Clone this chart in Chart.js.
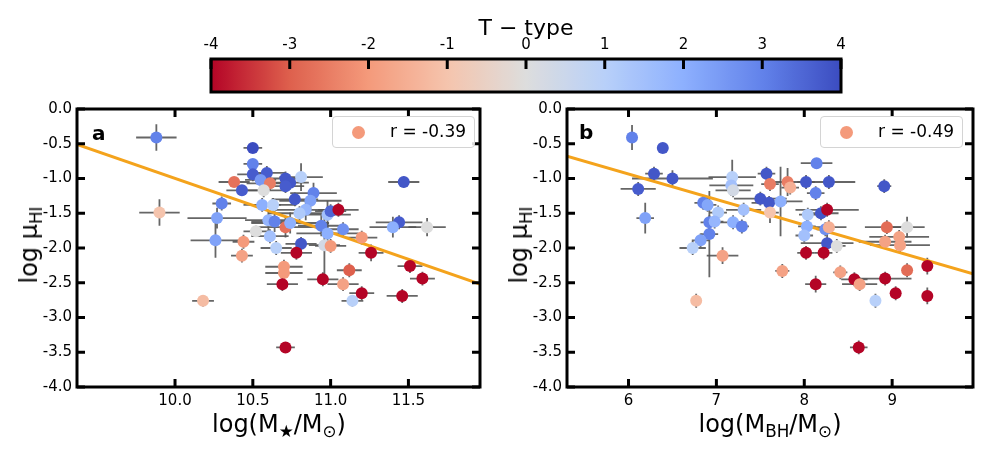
<!DOCTYPE html>
<html><head><meta charset="utf-8">
<script src="https://cdn.jsdelivr.net/npm/chart.js@4.4.0/dist/chart.umd.min.js"></script>
<style>
body{margin:0;background:#fff;}
#wrap{position:relative;width:1000px;height:454px;overflow:hidden;font-family:"DejaVu Sans",sans-serif;color:#000;}
canvas{position:absolute;}
.ov{position:absolute;white-space:nowrap;}
.sub{font-size:70%;position:relative;top:0.32em;}
.ytl{font-size:24px;transform:translate(-50%,-50%) rotate(-90deg);}
.xtl{font-size:24px;transform:translate(-50%,-50%);}
.lab{font-size:20px;font-weight:bold;}
.leg{border:1px solid #d4d4d4;border-radius:4px;background:rgba(255,255,255,0.85);width:141px;height:30px;}
.leg .dot{position:absolute;left:19px;top:9px;width:13px;height:13px;border-radius:50%;}
.leg .txt{position:absolute;left:57px;top:4px;font-size:17px;}
</style></head>
<body>
<div id="wrap">
  <canvas id="cb" width="1000" height="100" style="left:0;top:0;width:1000px;height:100px"></canvas>
  <canvas id="ca" width="495" height="359" style="left:0;top:95px;width:495px;height:359px"></canvas>
  <canvas id="cbb" width="505" height="359" style="left:495px;top:95px;width:505px;height:359px"></canvas>
  <div class="ov" style="left:526px;top:27px;font-size:22px;transform:translate(-50%,-50%)">T − type</div>
  <div class="ov ytl" style="left:29px;top:245px">log μ<span class="sub">HI</span></div>
  <div class="ov ytl" style="left:519px;top:245px">log μ<span class="sub">HI</span></div>
  <div class="ov xtl" style="left:279px;top:424px">log(M<span class="sub">★</span>/M<span class="sub">⊙</span>)</div>
  <div class="ov xtl" style="left:770px;top:424px">log(M<span class="sub">BH</span>/M<span class="sub">⊙</span>)</div>
  <div class="ov lab" style="left:92px;top:121px">a</div>
  <div class="ov lab" style="left:579px;top:120px">b</div>
  <div class="ov leg" style="left:332px;top:116px"><div class="dot" id="dotA"></div><div class="txt">r = -0.39</div></div>
  <div class="ov leg" style="left:820px;top:116px"><div class="dot" id="dotB"></div><div class="txt">r = -0.49</div></div>
</div>
<script>
// ---------------- data ----------------
const cbTicks = [-4,-3,-2,-1,0,1,2,3,4];
const yTicks = [-4,-3.5,-3,-2.5,-2,-1.5,-1,-0.5,0];
const xTicksA = [10.0,10.5,11.0,11.5];
const xTicksB = [6,7,8,9];
const legendT = -2;

// Panel a: log M* vs log muHI
const xA  = [9.88,9.90,10.18,10.50,10.50,10.50,10.59,10.38,10.43,10.55,10.61,10.57,10.71,10.74,10.71,10.81,10.77,10.89,10.87,10.84,10.80,10.98,11.00,11.05,10.30,10.27,10.26,10.44,10.43,10.52,10.56,10.63,10.60,10.64,10.61,10.65,10.71,10.74,10.81,10.78,10.70,10.70,10.69,10.71,10.94,10.98,10.96,11.00,11.08,10.95,11.08,11.12,11.14,11.20,11.20,11.26,11.47,11.44,11.40,11.62,11.51,11.59,11.46];
const yA  = [-0.41,-1.49,-2.76,-0.56,-0.79,-0.94,-0.92,-1.05,-1.17,-1.02,-1.07,-1.17,-1.00,-1.06,-1.11,-0.98,-1.30,-1.21,-1.32,-1.45,-1.50,-1.52,-1.47,-1.45,-1.36,-1.57,-1.89,-1.91,-2.11,-1.76,-1.38,-1.38,-1.60,-1.62,-1.83,-2.00,-1.70,-1.64,-1.94,-2.07,-2.27,-2.36,-2.52,-3.43,-1.68,-1.79,-1.96,-1.97,-1.73,-2.45,-2.52,-2.32,-2.76,-2.65,-1.85,-2.07,-1.05,-1.63,-1.70,-1.70,-2.26,-2.44,-2.69];
const xErrA = [0.13,0.13,0.07,0.06,0.06,0.10,0.12,0.10,0.10,0.10,0.15,0.15,0.12,0.12,0.12,0.14,0.15,0.15,0.20,0.20,0.20,0.15,0.10,0.13,0.06,0.19,0.16,0.07,0.07,0.08,0.12,0.15,0.15,0.15,0.12,0.10,0.20,0.25,0.10,0.10,0.12,0.12,0.10,0.06,0.15,0.20,0.10,0.10,0.10,0.10,0.10,0.08,0.07,0.08,0.10,0.08,0.10,0.15,0.15,0.12,0.08,0.08,0.10];
const yErrA = [0.19,0.19,0.08,0.07,0.06,0.10,0.10,0.05,0.06,0.10,0.10,0.10,0.10,0.10,0.10,0.20,0.10,0.15,0.15,0.15,0.10,0.20,0.10,0.10,0.10,0.15,0.25,0.10,0.10,0.08,0.10,0.10,0.15,0.15,0.10,0.10,0.15,0.15,0.10,0.10,0.10,0.10,0.10,0.07,0.15,0.15,0.45,0.10,0.10,0.10,0.10,0.10,0.08,0.10,0.10,0.12,0.08,0.10,0.15,0.13,0.10,0.10,0.10];
const tA  = [3,-1,-1.2,4,3,3.7,3.7,-2.7,3.7,2.5,-2.5,0,3.8,3.8,3.7,1,3.8,3,2.3,1.8,1.2,1.5,3.5,-4,3,2.3,2.3,-2,-1.8,0,2,1,1.8,3,1.5,1,-2.7,2,3.8,-4,-2,-2,-4,-4,3,2,0.3,-2,2.7,-4,-1.8,-3,1,-4,-2,-4,3.8,3.7,2,0,-4,-4,-4];
const fitXA = [9.37,11.96];
const fitYA = [-0.51,-2.52];

// Panel b: log M_BH vs log muHI
const xB  = [6.04,6.39,6.29,6.50,6.11,6.19,6.85,6.90,7.02,6.92,6.98,6.92,6.82,6.73,7.07,6.77,7.18,7.17,7.19,7.31,7.19,7.29,7.50,7.60,7.57,7.61,7.61,7.73,7.81,7.84,7.75,8.02,8.14,8.13,8.28,8.19,8.26,8.04,8.03,8.00,8.24,8.28,8.26,8.37,8.02,8.22,8.13,8.41,8.57,8.63,8.62,8.81,8.91,8.94,8.92,9.08,9.09,9.17,8.92,9.04,9.17,9.40,9.40];
const yB  = [-0.41,-0.56,-0.93,-1.00,-1.15,-1.57,-1.35,-1.38,-1.49,-1.63,-1.62,-1.80,-1.89,-2.00,-2.11,-2.76,-0.98,-1.10,-1.17,-1.45,-1.63,-1.69,-1.29,-1.35,-0.93,-1.08,-1.49,-1.33,-1.05,-1.13,-2.33,-1.05,-0.78,-1.21,-1.05,-1.50,-1.45,-1.52,-1.69,-1.82,-1.73,-1.70,-1.93,-1.97,-2.07,-2.07,-2.52,-2.35,-2.45,-2.52,-3.43,-2.76,-1.11,-1.70,-1.91,-1.84,-1.96,-1.70,-2.44,-2.65,-2.32,-2.26,-2.69];
const xErrB = [0.05,0.04,0.10,0.46,0.20,0.10,0.10,0.10,0.10,0.10,0.10,0.10,0.10,0.15,0.18,0.04,0.27,0.25,0.20,0.20,0.15,0.08,0.30,0.20,0.10,0.10,0.10,0.25,0.15,0.10,0.08,0.10,0.18,0.10,0.30,0.20,0.36,0.10,0.10,0.10,0.10,0.20,0.30,0.10,0.10,0.10,0.12,0.08,0.15,0.20,0.10,0.05,0.08,0.25,0.30,0.34,0.34,0.20,0.30,0.05,0.05,0.05,0.05];
const yErrB = [0.18,0.07,0.10,0.12,0.10,0.22,0.10,0.10,0.10,0.10,0.10,0.62,0.10,0.10,0.12,0.10,0.25,0.15,0.10,0.10,0.10,0.10,0.10,0.10,0.10,0.10,0.15,0.50,0.20,0.10,0.10,0.10,0.05,0.10,0.10,0.10,0.10,0.10,0.10,0.10,0.10,0.10,0.15,0.10,0.10,0.10,0.12,0.10,0.10,0.10,0.10,0.10,0.10,0.10,0.10,0.10,0.10,0.15,0.10,0.10,0.10,0.12,0.12];
const tB  = [3,3.8,3.8,3.8,3.7,2.3,3,2.2,1.2,3,1.8,3,2.3,1,-1.8,-1.2,1,1.5,0.3,1.5,2,3,3.8,3.8,3.8,-2.5,-1,2,-2.5,-1.5,-1.8,3.8,3,3,3.8,3.8,-4,1.2,2,1.5,2.7,-1.5,3.8,0,-4,-4,-4,-1.8,-4,-1.8,-4,1,3.8,-2.8,-1.8,-1.8,-1.8,0,-4,-4,-2.8,-4,-4];
const fitXB = [5.30,9.92];
const fitYB = [-0.68,-2.37];

// ---------------- colormap (coolwarm reversed: -4 red, +4 blue) ----------------
const cmap = [[59,76,192],[98,130,234],[141,176,254],[184,208,249],[221,221,221],[245,196,173],[244,154,123],[222,96,77],[180,4,38]];
function tColor(t){
  let f = Math.max(0, Math.min(8, 4 - t));
  let i = Math.min(7, Math.floor(f)), r = f - i;
  const a = cmap[i], b = cmap[i+1];
  return 'rgb(' + a.map((v,k)=>Math.round(v + (b[k]-v)*r)).join(',') + ')';
}
document.getElementById('dotA').style.background = tColor(legendT);
document.getElementById('dotB').style.background = tColor(legendT);

const FONT = {family:'"DejaVu Sans", sans-serif', size:15};

function errPlugin(xs, ys, xe, ye){
  return {
    id:'errBars',
    beforeDatasetsDraw(chart){
      const {ctx, chartArea:a, scales:{x, y}} = chart;
      ctx.save();
      ctx.beginPath(); ctx.rect(a.left, a.top, a.right-a.left, a.bottom-a.top); ctx.clip();
      ctx.strokeStyle = 'rgba(85,85,85,0.9)';
      ctx.lineWidth = 1.8;
      for (let i = 0; i < xs.length; i++){
        const px = x.getPixelForValue(xs[i]), py = y.getPixelForValue(ys[i]);
        ctx.beginPath();
        ctx.moveTo(x.getPixelForValue(xs[i]-xe[i]), py);
        ctx.lineTo(x.getPixelForValue(xs[i]+xe[i]), py);
        ctx.moveTo(px, y.getPixelForValue(ys[i]-ye[i]));
        ctx.lineTo(px, y.getPixelForValue(ys[i]+ye[i]));
        ctx.stroke();
      }
      ctx.restore();
    }
  };
}
const framePlugin = {
  id:'frame',
  afterDraw(chart){
    const {ctx, chartArea:a, scales:{x, y}} = chart;
    ctx.save();
    ctx.strokeStyle = '#000';
    ctx.lineWidth = 3;
    const L = 8;
    ctx.beginPath();
    x.ticks.forEach(t => {
      const p = x.getPixelForValue(t.value);
      ctx.moveTo(p, a.bottom); ctx.lineTo(p, a.bottom - L);
      ctx.moveTo(p, a.top); ctx.lineTo(p, a.top + L);
    });
    y.ticks.forEach(t => {
      const p = y.getPixelForValue(t.value);
      ctx.moveTo(a.left, p); ctx.lineTo(a.left + L, p);
      ctx.moveTo(a.right, p); ctx.lineTo(a.right - L, p);
    });
    ctx.stroke();
    ctx.strokeRect(a.left, a.top, a.right - a.left, a.bottom - a.top);
    ctx.restore();
  }
};

function panel(id, xs, ys, xe, ye, ts, fx, fy, xmin, xmax, xticks, yW, padR){
  return new Chart(document.getElementById(id), {
    type:'scatter',
    data:{datasets:[
      {type:'scatter', data: xs.map((v,i)=>({x:v, y:ys[i]})), pointRadius:6, pointHoverRadius:6,
       pointBackgroundColor: ts.map(tColor), pointBorderColor: ts.map(tColor), pointBorderWidth:0, order:1},
      {type:'line', data: fx.map((v,i)=>({x:v, y:fy[i]})), borderColor:'#f4a31c', borderWidth:3,
       pointRadius:0, fill:false, order:2}
    ]},
    options:{
      responsive:false, animation:false, devicePixelRatio:1,
      layout:{padding:{top:12, right:padR, left:0, bottom:0}},
      plugins:{legend:{display:false}, tooltip:{enabled:false}},
      scales:{
        x:{type:'linear', min:xmin, max:xmax,
           afterBuildTicks: s => { s.ticks = xticks.map(v=>({value:v})); },
           afterFit: s => { s.height = 67; },
           ticks:{font:FONT, color:'#000', padding:5, maxRotation:0, autoSkip:false,
                  callback: v => (xticks[0] >= 10 ? v.toFixed(1) : String(v))},
           grid:{display:false, drawTicks:false}, border:{display:false}},
        y:{type:'linear', min:-4, max:0,
           afterBuildTicks: s => { s.ticks = yTicks.map(v=>({value:v})); },
           afterFit: s => { s.width = yW; },
           ticks:{font:FONT, color:'#000', padding:5, autoSkip:false, callback: v => v.toFixed(1)},
           grid:{display:false, drawTicks:false}, border:{display:false}}
      }
    },
    plugins:[errPlugin(xs, ys, xe, ye), framePlugin]
  });
}
panel('ca', xA, yA, xErrA, yErrA, tA, fitXA, fitYA, 9.37, 11.96, xTicksA, 77, 15);
panel('cbb', xB, yB, xErrB, yErrB, tB, fitXB, fitYB, 5.30, 9.92, xTicksB, 72, 27);

// ---------------- colorbar ----------------
const cbPlugin = {
  id:'cbar',
  beforeDatasetsDraw(chart){
    const {ctx, chartArea:a, scales:{x}} = chart;
    const g = ctx.createLinearGradient(a.left, 0, a.right, 0);
    for (let k = 0; k <= 80; k++){
      const t = -4 + k*0.1;
      g.addColorStop((x.getPixelForValue(t) - a.left)/(a.right - a.left), tColor(t));
    }
    ctx.save();
    ctx.fillStyle = g;
    ctx.fillRect(a.left, a.top, a.right - a.left, a.bottom - a.top);
    ctx.strokeStyle = '#000'; ctx.lineWidth = 3;
    ctx.beginPath();
    x.ticks.forEach(t => {
      const p = x.getPixelForValue(t.value);
      ctx.moveTo(p, a.top); ctx.lineTo(p, a.top + 10);
    });
    ctx.stroke();
    ctx.strokeRect(a.left, a.top, a.right - a.left, a.bottom - a.top);
    ctx.restore();
  }
};
new Chart(document.getElementById('cb'), {
  type:'scatter',
  data:{datasets:[{data:[]}]},
  options:{
    responsive:false, animation:false, devicePixelRatio:1,
    layout:{padding:{top:0, left:211, right:159, bottom:8}},
    plugins:{legend:{display:false}, tooltip:{enabled:false}},
    scales:{
      x:{type:'linear', position:'top', min:-4, max:4,
         afterBuildTicks: s => { s.ticks = cbTicks.map(v=>({value:v})); },
         afterFit: s => { s.height = 59; },
         ticks:{font:FONT, color:'#000', padding:5, maxRotation:0, autoSkip:false, callback: v => String(v)},
         grid:{display:false, drawTicks:false}, border:{display:false}},
      y:{display:false, min:0, max:1}
    }
  },
  plugins:[cbPlugin]
});
</script>
</body></html>
